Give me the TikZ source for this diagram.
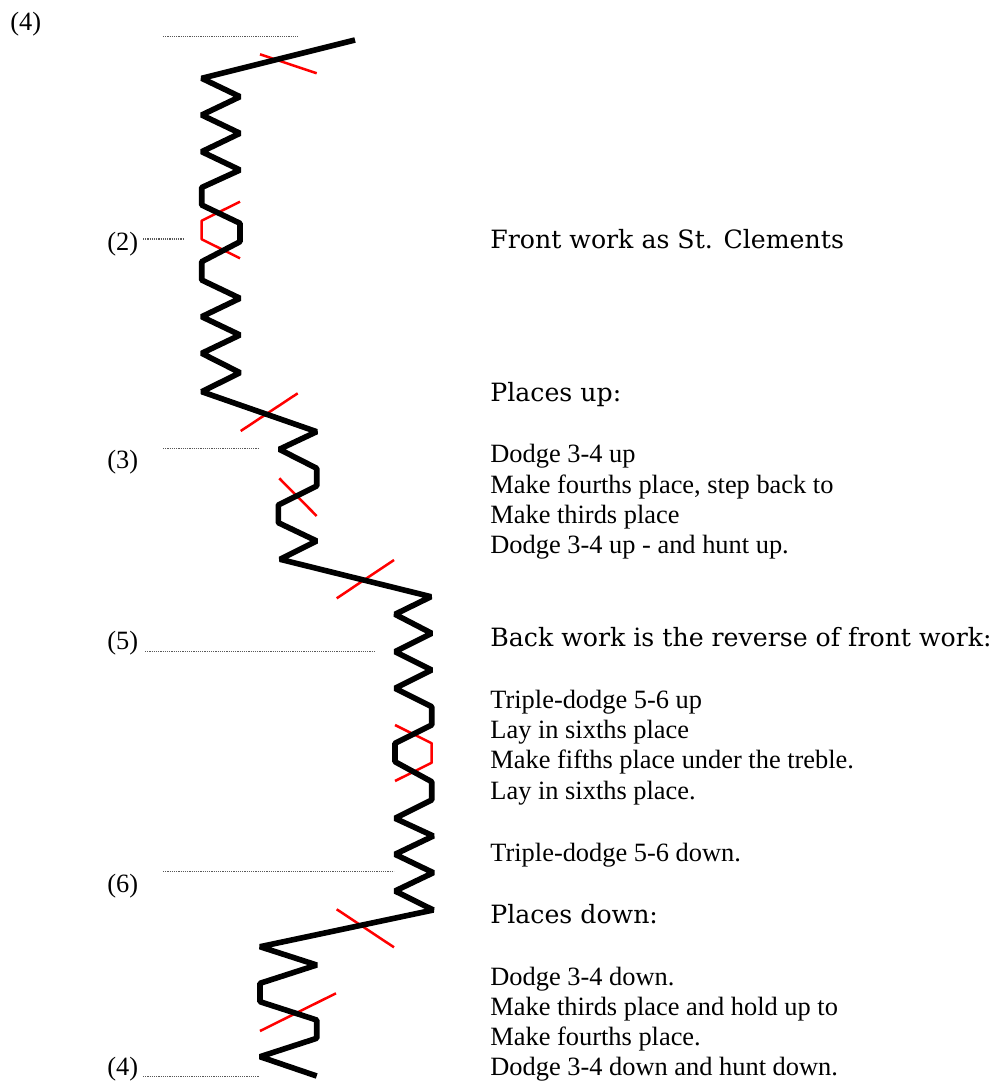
\documentclass[tikz,border=0pt]{standalone}
\usepackage{fontspec}
\setmainfont{Liberation Serif}
\newfontfamily\headfont{DejaVu Serif}
\begin{document}
\begin{tikzpicture}[x=0.5pt,y=-0.5pt,
  bell/.style={line width=2.8pt,black,line join=bevel},
  treble/.style={line width=1.25pt,red,line join=bevel},
  guide/.style={line width=0.55pt,black!65,dash pattern=on 0.55pt off 0.55pt},
  body/.style={anchor=base west,inner sep=0pt,font=\fontsize{13.2pt}{15pt}\selectfont},
  head/.style={anchor=base west,inner sep=0pt,font=\headfont\fontsize{12.6pt}{15pt}\selectfont}]
\useasboundingbox (0,0) rectangle (995,1081);
% guide (dotted) lines
\coordinate (g4a) at (163,36.7);  \coordinate (g4b) at (298,36.7);
\coordinate (g2a) at (143,239);   \coordinate (g2b) at (183,239);
\coordinate (g3a) at (163,448.3); \coordinate (g3b) at (258,448.3);
\coordinate (g5a) at (145,651.7); \coordinate (g5b) at (375,651.7);
\coordinate (g6a) at (163,871.7); \coordinate (g6b) at (394,871.7);
\coordinate (g7a) at (143,1076.5);\coordinate (g7b) at (259,1076.5);
\draw[guide] (g4a) -- (g4b);
\draw[guide] (g2a) -- (g2b);
\draw[guide] (g3a) -- (g3b);
\draw[guide] (g5a) -- (g5b);
\draw[guide] (g6a) -- (g6b);
\draw[guide] (g7a) -- (g7b);
% treble path (red)
\draw[treble] (260,54.3) -- (316.7,73.3);
\draw[treble] (240,201.7) -- (201.7,220.7) -- (201.7,239.3) -- (240,258.3);
\draw[treble] (240.7,431) -- (297.7,393.3);
\draw[treble] (279.3,478.3) -- (316.7,516);
\draw[treble] (336.7,598.3) -- (394,560);
\draw[treble] (395,725) -- (431.7,743.3) -- (431.7,762.7) -- (395,781);
\draw[treble] (336.7,909.3) -- (394,947.3);
\draw[treble] (260,1031) -- (336,993.3);
% working bell path (black)
\draw[bell] (355,40) -- (201.7,78.3) -- (240,96.7) -- (201.7,115) -- (240,133.3)
  -- (201.7,151.7) -- (240,170) -- (201.7,187.5) -- (201.7,205) -- (240,223.3)
  -- (240,241.7) -- (201.7,261.7) -- (201.7,280) -- (240,298.3) -- (201.7,316.7)
  -- (240,335) -- (201.7,353.3) -- (240,372.7) -- (201.7,391.7)
  -- (316.7,431.7) -- (279.3,449.3) -- (316.7,468.3) -- (316.7,486) -- (278.3,505)
  -- (278.3,522.7) -- (316.7,541) -- (280,559.3)
  -- (431,596.7) -- (395,614.3) -- (431.7,633.3) -- (395,651.7) -- (431.7,670)
  -- (395,688.3) -- (431.7,706.7) -- (431.7,725) -- (395,743.3) -- (395,761.7)
  -- (431.7,781.7) -- (431.7,800) -- (395,818.3) -- (433.3,836) -- (395,854.3)
  -- (433.3,872.7) -- (395,891) -- (433.3,910)
  -- (260,946.7) -- (316.7,965) -- (260,983.3) -- (260,1001.7) -- (316.7,1020)
  -- (316.7,1038.3) -- (260,1056.7) -- (316.7,1076);
% place labels
\node[body] (l4t) at (10,31) {(4)};
\node[body] (l2) at (107,250) {(2)};
\node[body] (l3) at (107,468) {(3)};
\node[body] (l5) at (107,649) {(5)};
\node[body] (l6) at (107,892) {(6)};
\node[body] (l4b) at (107,1075) {(4)};
% description
\node[head] (h1) at (490,248.3) {Front work as St. Clements};
\node[head] (h2) at (490,401.7) {Places up:};
\node[body] (t1) at (490,462.7) {Dodge 3-4 up};
\node[body] (t2) at (490,493) {Make fourths place, step back to};
\node[body] (t3) at (490,523.3) {Make thirds place};
\node[body] (t4) at (490,553.5) {Dodge 3-4 up - and hunt up.};
\node[head] (h3) at (490,646.7) {Back work is the reverse of front work:};
\node[body] (t5) at (490,708) {Triple-dodge 5-6 up};
\node[body] (t6) at (490,738) {Lay in sixths place};
\node[body] (t7) at (490,768.5) {Make fifths place under the treble.};
\node[body] (t8) at (490,799) {Lay in sixths place.};
\node[body] (t9) at (490,861.7) {Triple-dodge 5-6 down.};
\node[head] (h4) at (490,923) {Places down:};
\node[body] (t10) at (490,985) {Dodge 3-4 down.};
\node[body] (t11) at (490,1015) {Make thirds place and hold up to};
\node[body] (t12) at (490,1045.5) {Make fourths place.};
\node[body] (t13) at (490,1075.5) {Dodge 3-4 down and hunt down.};
\end{tikzpicture}
\end{document}
